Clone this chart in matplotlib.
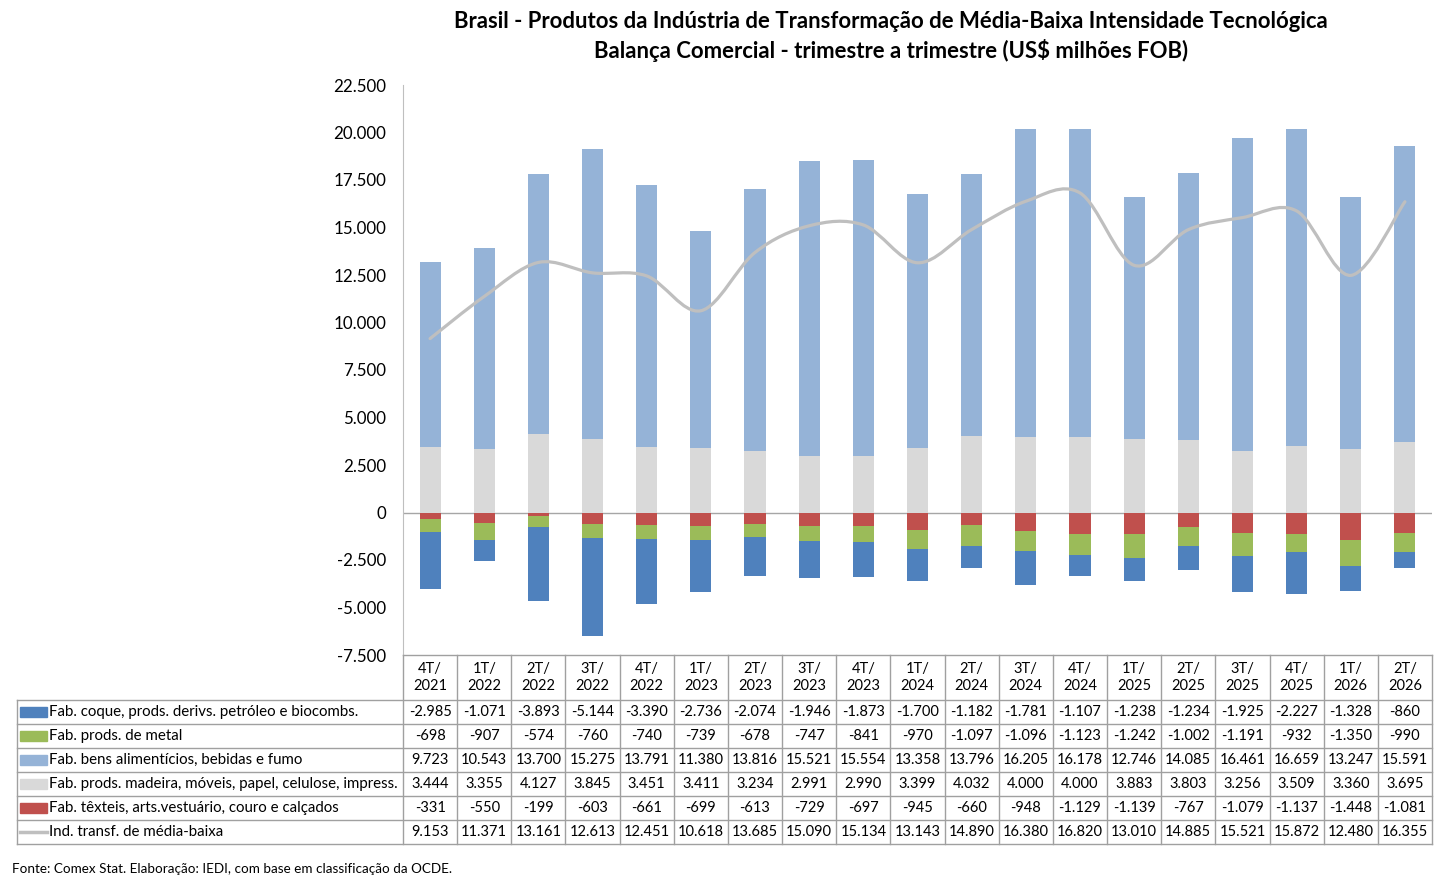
import numpy as np
import matplotlib
matplotlib.use('Agg')
import matplotlib.pyplot as plt
from matplotlib.path import Path
from matplotlib.patches import PathPatch, Rectangle
from matplotlib.lines import Line2D
import matplotlib.transforms as mtransforms
from matplotlib.ticker import FuncFormatter

plt.rcParams['font.family'] = ['Lato', 'DejaVu Sans']

# dados (US$ milhoes FOB)
trimestres = ['4T/\n2021', '1T/\n2022', '2T/\n2022', '3T/\n2022', '4T/\n2022', '1T/\n2023',
              '2T/\n2023', '3T/\n2023', '4T/\n2023', '1T/\n2024', '2T/\n2024', '3T/\n2024',
              '4T/\n2024', '1T/\n2025', '2T/\n2025', '3T/\n2025', '4T/\n2025', '1T/\n2026',
              '2T/\n2026']
coque = [-2985, -1071, -3893, -5144, -3390, -2736, -2074, -1946, -1873, -1700, -1182, -1781,
         -1107, -1238, -1234, -1925, -2227, -1328, -860]
metal = [-698, -907, -574, -760, -740, -739, -678, -747, -841, -970, -1097, -1096,
         -1123, -1242, -1002, -1191, -932, -1350, -990]
alimentos = [9723, 10543, 13700, 15275, 13791, 11380, 13816, 15521, 15554, 13358, 13796, 16205,
             16178, 12746, 14085, 16461, 16659, 13247, 15591]
madeira = [3444, 3355, 4127, 3845, 3451, 3411, 3234, 2991, 2990, 3399, 4032, 4000,
           4000, 3883, 3803, 3256, 3509, 3360, 3695]
texteis = [-331, -550, -199, -603, -661, -699, -613, -729, -697, -945, -660, -948,
           -1129, -1139, -767, -1079, -1137, -1448, -1081]
total = [9153, 11371, 13161, 12613, 12451, 10618, 13685, 15090, 15134, 13143, 14890, 16380,
         16820, 13010, 14885, 15521, 15872, 12480, 16355]

rotulos = ['Fab. coque, prods. derivs. petróleo e biocombs.',
           'Fab. prods. de metal',
           'Fab. bens alimentícios, bebidas e fumo',
           'Fab. prods. madeira, móveis, papel, celulose, impress.',
           'Fab. têxteis, arts.vestuário, couro e calçados',
           'Ind. transf. de média-baixa']
cores = ['#4F81BD', '#9BBB59', '#95B3D7', '#D9D9D9', '#C0504D', '#BFBFBF']

W, H = 1438, 890
fig = plt.figure(figsize=(W / 100, H / 100), dpi=100)

def fx(px):
    return px / W

def fy(py):
    return 1 - py / H

ax_l, ax_r, ax_t, ax_b = 403, 1432, 85, 655
ax = fig.add_axes([fx(ax_l), fy(ax_b), fx(ax_r - ax_l), fy(ax_t) - fy(ax_b)])

x = np.arange(len(trimestres))
n = len(x)
larg = 0.39
co, me, al, ma, te = map(np.array, (coque, metal, alimentos, madeira, texteis))

ax.bar(x, ma, larg, color=cores[3], zorder=2)
ax.bar(x, al, larg, bottom=ma, color=cores[2], zorder=2)
ax.bar(x, te, larg, color=cores[4], zorder=2)
ax.bar(x, me, larg, bottom=te, color=cores[1], zorder=2)
ax.bar(x, co, larg, bottom=te + me, color=cores[0], zorder=2)

# linha suavizada (estilo Excel, bezier)
pts = np.column_stack([x, np.array(total, dtype=float)])
verts = [pts[0]]
codes = [Path.MOVETO]
for i in range(n - 1):
    p0 = pts[i - 1] if i > 0 else pts[i]
    p1 = pts[i]
    p2 = pts[i + 1]
    p3 = pts[i + 2] if i + 2 < n else pts[i + 1]
    c1 = p1 + (p2 - p0) / 6.0
    c2 = p2 - (p3 - p1) / 6.0
    verts += [c1, c2, p2]
    codes += [Path.CURVE4] * 3
ax.add_patch(PathPatch(Path(verts, codes), facecolor='none', edgecolor=cores[5],
                       lw=2.3, zorder=3, capstyle='round'))

ax.axhline(0, color='#A6A6A6', lw=1, zorder=1)
ax.set_xlim(-0.5, n - 0.5)
ax.set_ylim(-7500, 22500)
ax.set_yticks(np.arange(-7500, 22501, 2500))
ax.yaxis.set_major_formatter(FuncFormatter(lambda v, p: f'{int(v):,}'.replace(',', '.')))
ax.tick_params(axis='y', length=0, pad=12, labelsize=12.2)
ax.set_xticks([])
for s in ['top', 'right', 'bottom']:
    ax.spines[s].set_visible(False)
ax.spines['left'].set_color('#BFBFBF')

fig.text(fx(891), fy(21), 'Brasil - Produtos da Indústria de Transformação de Média-Baixa Intensidade Tecnológica',
         ha='center', va='center', fontsize=15.9, fontweight='bold')
fig.text(fx(891), fy(50), 'Balança Comercial - trimestre a trimestre (US$ milhões FOB)',
         ha='center', va='center', fontsize=15.9, fontweight='bold')

# tabela de dados
grade = '#A0A0A0'
tb = mtransforms.blended_transform_factory(ax.transData, fig.transFigure)
linhas_y = [700 + 24 * k for k in range(7)]
tab_l = 17

fig.add_artist(Line2D([fx(ax_l), fx(ax_r)], [fy(655), fy(655)], color=grade, lw=1))
for yy in linhas_y:
    fig.add_artist(Line2D([fx(tab_l), fx(ax_r)], [fy(yy), fy(yy)], color=grade, lw=1))
fig.add_artist(Line2D([fx(tab_l), fx(tab_l)], [fy(700), fy(844)], color=grade, lw=1))
for b in np.arange(n + 1) - 0.5:
    ax.add_artist(Line2D([b, b], [fy(655), fy(844)], transform=tb, color=grade, lw=1,
                         clip_on=False))

for i, t in enumerate(trimestres):
    ax.text(x[i], fy(677.5), t, transform=tb, ha='center', va='center', fontsize=10.5,
            linespacing=1.25, clip_on=False)

series = [coque, metal, alimentos, madeira, texteis, total]
for r, (lab, cor, vals) in enumerate(zip(rotulos, cores, series)):
    yc = fy(linhas_y[r] + 12)
    if r < 5:
        fig.add_artist(Rectangle((fx(20), yc - 5 / H), 27 / W, 10 / H, color=cor))
    else:
        fig.add_artist(Line2D([fx(20), fx(47)], [yc, yc], color=cor, lw=2.5))
    fig.text(fx(49), yc, lab, ha='left', va='center', fontsize=10.8)
    for i, v in enumerate(vals):
        ax.text(x[i], yc, f'{v:,}'.replace(',', '.'), transform=tb, ha='center', va='center',
                fontsize=10.5, clip_on=False)

fig.text(fx(12), fy(869), 'Fonte: Comex Stat. Elaboração: IEDI, com base em classificação da OCDE.',
         ha='left', va='center', fontsize=9.7)

fig.savefig('out.png', dpi=100)
